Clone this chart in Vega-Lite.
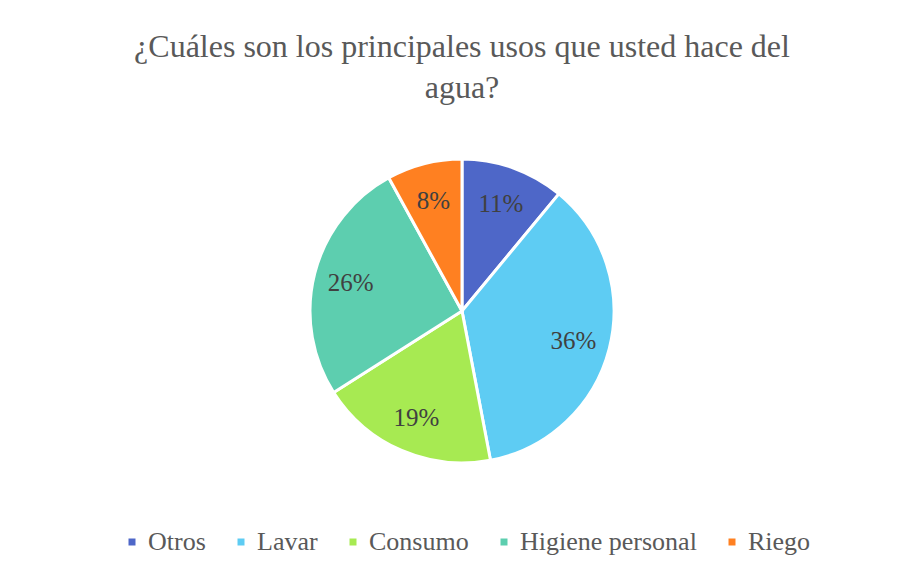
{
  "$schema": "https://vega.github.io/schema/vega-lite/v6.json",
  "autosize": "none",
  "width": 304,
  "height": 304,
  "padding": {"left": 310, "top": 159, "right": 290, "bottom": 114},
  "background": "white",
  "title": {
    "text": ["¿Cuáles son los principales usos que usted hace del", "agua?"],
    "font": "Liberation Serif",
    "fontSize": 32,
    "fontWeight": "normal",
    "color": "#595959",
    "lineHeight": 41,
    "anchor": "middle",
    "offset": 48
  },
  "data": {
    "values": [
      {"uso": "Otros", "valor": 11, "orden": 1, "etiqueta": "11%"},
      {"uso": "Lavar", "valor": 36, "orden": 2, "etiqueta": "36%"},
      {"uso": "Consumo", "valor": 19, "orden": 3, "etiqueta": "19%"},
      {"uso": "Higiene personal", "valor": 26, "orden": 4, "etiqueta": "26%"},
      {"uso": "Riego", "valor": 8, "orden": 5, "etiqueta": "8%"}
    ]
  },
  "encoding": {
    "theta": {"field": "valor", "type": "quantitative", "stack": true},
    "order": {"field": "orden", "type": "quantitative"},
    "color": {
      "field": "uso",
      "type": "nominal",
      "scale": {
        "domain": ["Otros", "Lavar", "Consumo", "Higiene personal", "Riego"],
        "range": ["#4E67C8", "#5ECCF3", "#A7EA52", "#5DCEAF", "#FF8021"]
      },
      "legend": {
        "title": null,
        "orient": "none",
        "direction": "horizontal",
        "legendX": -191,
        "legendY": 370,
        "symbolType": "square",
        "symbolSize": 49,
        "symbolStrokeWidth": 0,
        "symbolOpacity": 1,
        "labelFont": "Liberation Serif",
        "labelFontSize": 26,
        "labelColor": "#595959",
        "labelOffset": 3,
        "labelLimit": 400,
        "columnPadding": 22
      }
    }
  },
  "layer": [
    {
      "mark": {"type": "arc", "outerRadius": 152, "stroke": "white", "strokeWidth": 3}
    },
    {
      "mark": {"type": "text", "radius": 115, "dy": 1, "font": "Liberation Serif", "fontSize": 25},
      "encoding": {
        "text": {"field": "etiqueta", "type": "nominal"},
        "color": {"value": "#404040"}
      }
    }
  ],
  "config": {"view": {"stroke": null}, "font": "Liberation Serif"}
}
